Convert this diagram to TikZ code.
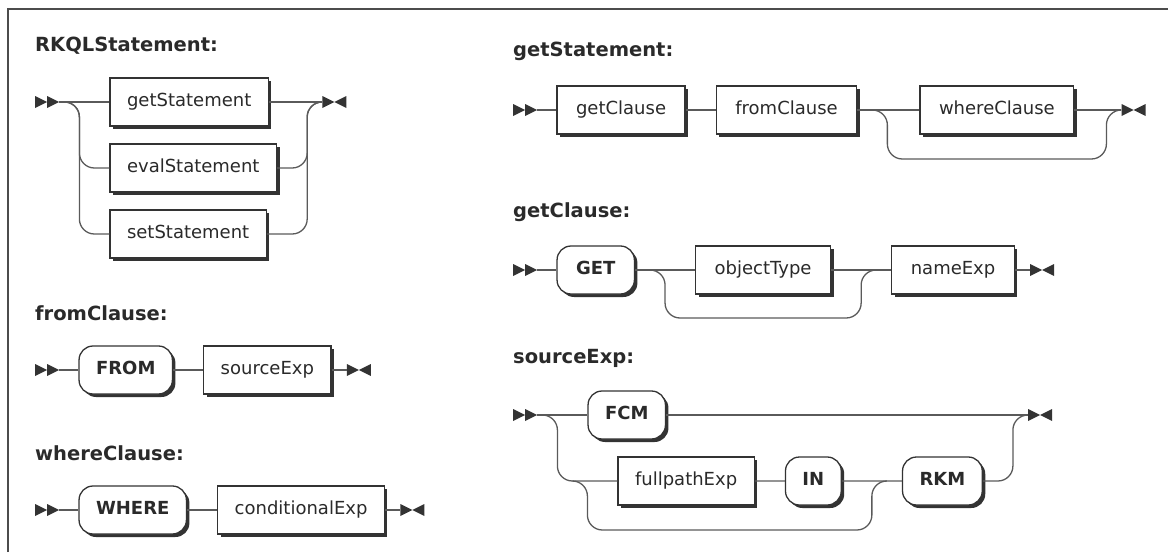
\documentclass[tikz,border=0pt]{standalone}
\usepackage{fontspec}
\setmainfont{DejaVu Sans}
\usepackage{xcolor}
\usepackage{tikz}
\usetikzlibrary{positioning}
\usetikzlibrary{calc}
\usetikzlibrary{shadows}

\definecolor{railc}{HTML}{5A5A5A}
\definecolor{boxc}{HTML}{333333}
\definecolor{inkc}{HTML}{2A2A2A}

\begin{document}
\begin{tikzpicture}[x=1pt,y=-1pt]
    \tikzset{base/.style={draw=boxc,line width=1.3pt,fill=white,minimum height=48pt,inner xsep=17pt,inner ysep=0pt,text height=13pt,text depth=4pt,text=inkc,font=\fontsize{18}{20}\selectfont,drop shadow={shadow xshift=3pt,shadow yshift=-3pt,fill=boxc,opacity=1}}}
    \tikzset{nonterm/.style={base,rectangle}}
    \tikzset{term/.style={base,rounded corners=14pt,font=\fontsize{18}{20}\selectfont\bfseries}}
    \tikzset{wide/.style={inner xsep=19pt}}
    \tikzset{rail/.style={draw=railc,line width=1.3pt,rounded corners=15pt}}
    \tikzset{title/.style={anchor=west,inner sep=0pt,text=inkc,font=\fontsize{19.5}{22}\selectfont\bfseries}}
    \tikzset{startm/.style={fill=white,minimum width=24pt,minimum height=12pt,inner sep=0pt,
        path picture={\fill[boxc] (path picture bounding box.south west) -- (path picture bounding box.north west) -- (path picture bounding box.center) -- cycle
            (path picture bounding box.south) -- (path picture bounding box.north) -- (path picture bounding box.east) -- cycle;}}}
    \tikzset{endm/.style={fill=white,minimum width=24pt,minimum height=12pt,inner sep=0pt,
        path picture={\fill[boxc] (path picture bounding box.south west) -- (path picture bounding box.north west) -- (path picture bounding box.center) -- cycle
            (path picture bounding box.south east) -- (path picture bounding box.north east) -- (path picture bounding box.center) -- cycle;}}}
    \useasboundingbox (0,0) rectangle (1168,552);
    \draw[draw=black!70,line width=2pt] (8,552) -- (8,9) -- (1168,9);

    \node[title] (t1) at (35,46) {RKQLStatement:};
    \node[startm,anchor=west] (s1) at (35,102) {};
    \coordinate (e1) at ($(s1.east)+(5,0)$);
    \node[nonterm,anchor=west] (gs) at ($(e1)+(45,0)$) {getStatement};
    \node[nonterm,below=66pt of gs.west,anchor=west] (es) {evalStatement};
    \node[nonterm,below=66pt of es.west,anchor=west] (ss) {setStatement};
    \coordinate (x1) at ($(es.east |- gs.east)+(45,0)$);
    \node[endm,anchor=west] (f1) at (x1) {};
    \draw[rail] (s1) -- (gs) -- (f1);
    \draw[rail] (e1) -| ($(e1)+(15,66)$) -- (es);
    \draw[rail] (e1) -| ($(e1)+(15,132)$) -- (ss);
    \draw[rail] (es) -| ($(x1)+(-15,0)$) -- (f1);
    \draw[rail] (ss) -| ($(x1)+(-15,0)$) -- (f1);

    \node[title] (t2) at (35,313) {fromClause:};
    \node[startm,anchor=west] (s2) at (35,370) {};
    \node[term,right=19pt of s2] (from) {FROM};
    \node[nonterm,right=30pt of from] (srcx) {sourceExp};
    \node[endm,right=15pt of srcx] (f2) {};
    \draw[rail] (s2) -- (from) -- (srcx) -- (f2);

    \node[title] (t3) at (35,453) {whereClause:};
    \node[startm,anchor=west] (s3) at (35,510) {};
    \node[term,right=19pt of s3] (where) {WHERE};
    \node[nonterm,right=30pt of where] (cond) {conditionalExp};
    \node[endm,right=15pt of cond] (f3) {};
    \draw[rail] (s3) -- (where) -- (cond) -- (f3);

    \node[title] (t4) at (513,51) {getStatement:};
    \node[startm,anchor=west] (s4) at (513,110) {};
    \node[nonterm,wide,right=19pt of s4] (gcl) {getClause};
    \node[nonterm,wide,right=30pt of gcl] (fcl) {fromClause};
    \node[nonterm,wide,right=62pt of fcl] (wcl) {whereClause};
    \coordinate (o4) at ($(fcl.east)+(15,0)$);
    \coordinate (x4) at ($(wcl.east)+(47,0)$);
    \node[endm,anchor=west] (f4) at (x4) {};
    \draw[rail] (s4) -- (gcl) -- (fcl) -- (wcl) -- (f4);
    \draw[rail] (o4) -| ($(o4)+(15,49)$) -| ($(x4)+(-15,0)$) -- (f4);

    \node[title] (t5) at (513,212) {getClause:};
    \node[startm,anchor=west] (s5) at (513,270) {};
    \node[term,wide,right=19pt of s5] (get) {GET};
    \node[nonterm,wide,right=60pt of get] (otype) {objectType};
    \node[nonterm,wide,right=60pt of otype] (nexp) {nameExp};
    \node[endm,right=15pt of nexp] (f5) {};
    \coordinate (o5) at ($(get.east)+(15,0)$);
    \coordinate (x5) at ($(otype.east)+(45,0)$);
    \draw[rail] (s5) -- (get) -- (otype) -- (nexp) -- (f5);
    \draw[rail] (o5) -| ($(o5)+(15,48)$) -| ($(x5)+(-15,0)$) -- (x5);

    \node[title] (t6) at (513,358) {sourceExp:};
    \node[startm,anchor=west] (s6) at (513,415) {};
    \coordinate (e6) at ($(s6.east)+(5,0)$);
    \node[term,anchor=west] (fcm) at ($(e6)+(45,0)$) {FCM};
    \coordinate (c6) at ($(e6)+(15,66)$);
    \coordinate (b6) at ($(e6)+(30,66)$);
    \node[nonterm,anchor=west] (fpx) at ($(b6)+(45,0)$) {fullpathExp};
    \node[term,right=30pt of fpx] (kin) {IN};
    \node[term,right=60pt of kin] (rkm) {RKM};
    \coordinate (o6) at ($(kin.east)+(45,0)$);
    \coordinate (x6) at ($(rkm.east |- fcm.east)+(45,0)$);
    \node[endm,anchor=west] (f6) at (x6) {};
    \draw[rail] (s6) -- (fcm) -- (f6);
    \draw[rail] (e6) -| (c6) -- (fpx) -- (kin) -- (rkm) -| ($(x6)+(-15,0)$) -- (f6);
    \draw[rail] (b6) -| ($(b6)+(15,49)$) -| ($(o6)+(-15,0)$) -- (o6);
\end{tikzpicture}
\end{document}
